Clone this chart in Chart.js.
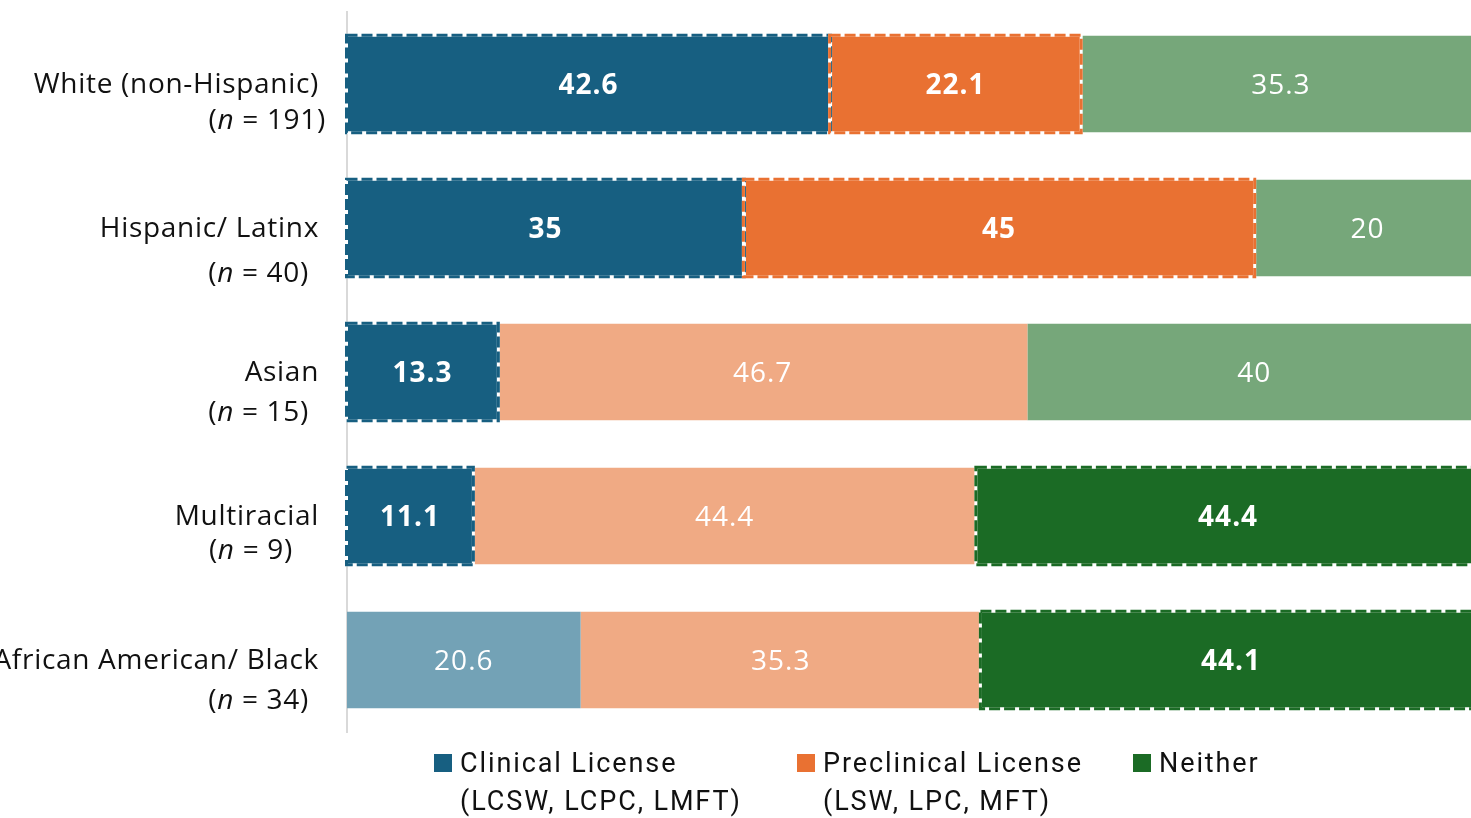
<!DOCTYPE html>
<html>
<head>
<meta charset="utf-8">
<script src="https://cdn.jsdelivr.net/npm/chart.js@4"></script>
<style>
    html, body { margin: 0; padding: 0; background: #fff; overflow: hidden; }
    #wrap { position: relative; width: 1481px; height: 818px; }
    #legend { position: absolute; left: 0; top: 744px; width: 1471px; height: 74px; }
    .lg-item { position: absolute; top: 0; font-family: "Roboto", sans-serif; font-size: 27px; line-height: 38px; letter-spacing: 1.9px; color: #111; }
    .lg-box { position: absolute; width: 18px; height: 18px; top: 10px; }
    .lg-text { position: absolute; white-space: nowrap; }
</style>
</head>
<body>
<div id="wrap">
    <canvas id="chart" width="1481" height="818"></canvas>
    <div id="legend"></div>
</div>
<script>
// ── Data ──────────────────────────────────────────────────────
const groups      = ["White (non-Hispanic)", "Hispanic/ Latinx", "Asian", "Multiracial", "African American/ Black"];
const groupN      = [191, 40, 15, 9, 34];
const clinical    = [42.6, 35, 13.3, 11.1, 20.6];
const preclinical = [22.1, 45, 46.7, 44.4, 35.3];
const neither     = [35.3, 20, 40, 44.4, 44.1];

// which segments are emphasised (dark fill, dashed outline, bold value)
const hiClinical    = [true, true, true, true, false];
const hiPreclinical = [true, true, false, false, false];
const hiNeither     = [false, false, false, true, true];

const seriesNames = ["Clinical License", "Preclinical License", "Neither"];
const seriesSub   = ["(LCSW, LCPC, LMFT)", "(LSW, LPC, MFT)", ""];
const darkColors  = ["#175f81", "#e97132", "#1b6b25"];
const lightColors = ["#73a2b6", "#f0aa84", "#76a77a"];

// label placement tweaks for the second "(n = …)" line
const nLineRight = [325, 308, 308, 292, 308];
const nLineDy    = [36, 45, 40, 34, 40];

const LABEL_FONT = '"Open Sans", sans-serif';
const LABEL_SIZE = "28px ";

function makeDataset(idx, values, hi) {
    return {
        label: seriesNames[idx],
        data: values,
        highlight: hi,
        backgroundColor: hi.map(h => h ? darkColors[idx] : lightColors[idx]),
        borderWidth: 0,
        barPercentage: 0.67,
        categoryPercentage: 1.0
    };
}

// ── Plugins ───────────────────────────────────────────────────
const dashedOutline = {
    id: "dashedOutline",
    afterDatasetsDraw(chart) {
        const ctx = chart.ctx;
        chart.data.datasets.forEach((ds, di) => {
            chart.getDatasetMeta(di).data.forEach((bar, i) => {
                if (!ds.highlight[i]) return;
                const { x, y, base, height } = bar.getProps(["x", "y", "base", "height"], true);
                const left = Math.min(x, base), right = Math.max(x, base);
                const top = y - height / 2;
                ctx.save();
                ctx.lineWidth = 3;
                ctx.strokeStyle = "#ffffff";
                ctx.strokeRect(left - 0.5, top - 0.5, right - left + 1, height + 1);
                ctx.setLineDash([11, 4]);
                ctx.strokeStyle = darkColors[di];
                ctx.strokeRect(left - 0.5, top - 0.5, right - left + 1, height + 1);
                ctx.restore();
            });
        });
    }
};

const valueLabels = {
    id: "valueLabels",
    afterDatasetsDraw(chart) {
        const ctx = chart.ctx;
        ctx.save();
        ctx.fillStyle = "#ffffff";
        ctx.textAlign = "center";
        ctx.textBaseline = "middle";
        ctx.letterSpacing = "1px";
        chart.data.datasets.forEach((ds, di) => {
            chart.getDatasetMeta(di).data.forEach((bar, i) => {
                const { x, y, base } = bar.getProps(["x", "y", "base"], true);
                ctx.font = (ds.highlight[i] ? "bold " : "") + LABEL_SIZE + LABEL_FONT;
                ctx.fillText(String(ds.data[i]), (x + base) / 2, y + 2);
            });
        });
        ctx.restore();
    }
};

const groupLabels = {
    id: "groupLabels",
    afterDraw(chart) {
        const ctx = chart.ctx;
        const yScale = chart.scales.y;
        ctx.save();
        ctx.fillStyle = "#111111";
        ctx.textBaseline = "middle";
        ctx.letterSpacing = "0.7px";
        groups.forEach((g, i) => {
            const cy = yScale.getPixelForValue(i) + 1;
            ctx.font = LABEL_SIZE + LABEL_FONT;
            ctx.textAlign = "right";
            ctx.fillText(g, 319, cy);

            // "(n = 191)" with italic n
            const y2 = cy + nLineDy[i];
            const tail = " = " + groupN[i] + ")";
            ctx.font = LABEL_SIZE + LABEL_FONT;
            const wTail = ctx.measureText(tail).width;
            const wOpen = ctx.measureText("(").width;
            ctx.font = "italic " + LABEL_SIZE + LABEL_FONT;
            const wN = ctx.measureText("n").width;
            let xs = nLineRight[i] + 1 - wTail - wN - wOpen;
            ctx.textAlign = "left";
            ctx.font = LABEL_SIZE + LABEL_FONT;
            ctx.fillText("(", xs, y2);
            ctx.font = "italic " + LABEL_SIZE + LABEL_FONT;
            ctx.fillText("n", xs + wOpen, y2);
            ctx.font = LABEL_SIZE + LABEL_FONT;
            ctx.fillText(tail, xs + wOpen + wN, y2);
        });
        ctx.restore();
    }
};

// ── Chart ─────────────────────────────────────────────────────
new Chart(document.getElementById("chart"), {
    type: "bar",
    data: {
        labels: groups,
        datasets: [
            makeDataset(0, clinical, hiClinical),
            makeDataset(1, preclinical, hiPreclinical),
            makeDataset(2, neither, hiNeither)
        ]
    },
    options: {
        indexAxis: "y",
        responsive: false,
        animation: false,
        devicePixelRatio: 1,
        layout: { padding: { top: 12, bottom: 86, left: 0, right: 0 } },
        plugins: {
            legend: { display: false },
            tooltip: { enabled: false }
        },
        scales: {
            x: { stacked: true, min: 0, max: 100, display: false },
            y: {
                stacked: true,
                ticks: { display: false },
                grid: { display: false },
                border: { display: true, color: "#d9d9d9", width: 2 },
                afterFit: s => { s.width = 347; }
            }
        }
    },
    plugins: [dashedOutline, valueLabels, groupLabels]
});

// ── Legend ────────────────────────────────────────────────────
const legendLeft = [434, 797, 1133];
const legend = document.getElementById("legend");
seriesNames.forEach((name, i) => {
    const item = document.createElement("div");
    item.className = "lg-item";
    item.style.left = legendLeft[i] + "px";
    const box = document.createElement("div");
    box.className = "lg-box";
    box.style.background = darkColors[i];
    item.appendChild(box);
    const txt = document.createElement("div");
    txt.className = "lg-text";
    txt.style.left = "26px";
    txt.innerHTML = name + (seriesSub[i] ? "<br>" + seriesSub[i] : "");
    item.appendChild(txt);
    legend.appendChild(item);
});
</script>
</body>
</html>
